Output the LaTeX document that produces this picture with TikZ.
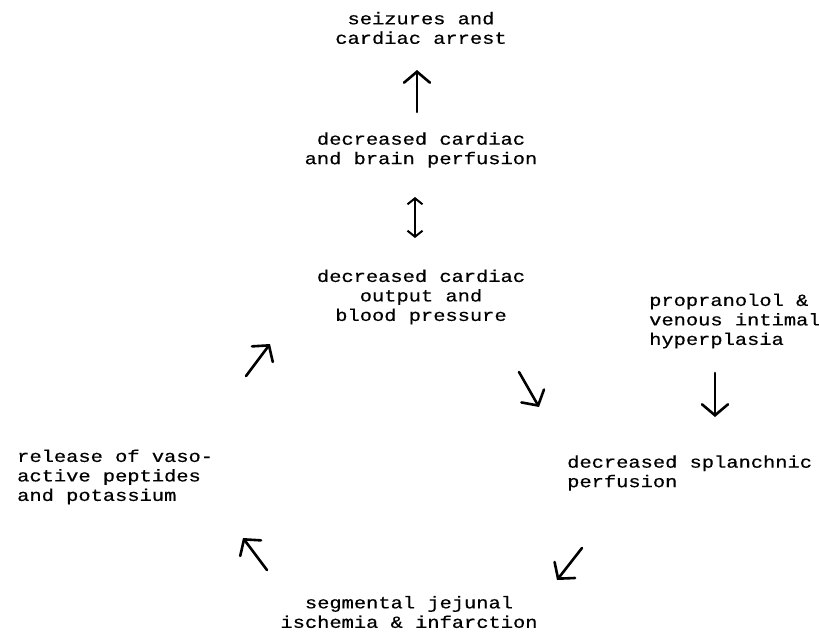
\documentclass[tikz,border=0pt]{standalone}
\usepackage{fontspec}
\setmainfont{Liberation Mono}[FakeStretch=1.2,FakeBold=0.5]
\usetikzlibrary{arrows.meta}
\begin{document}
\begin{tikzpicture}[x=1pt,y=-1pt,
  lbl/.style={inner sep=0pt, font=\fontsize{17}{19.5}\selectfont},
  ctr/.style={lbl, align=center},
  lft/.style={lbl, align=left, anchor=west},
  arr/.style={line width=2.6pt, line cap=round, -{Straight Barb[length=11pt,width=26pt,line cap=round]}},
  darr/.style={line width=2pt, {Straight Barb[length=6pt,width=15pt]}-{Straight Barb[length=6pt,width=15pt]}}]
\useasboundingbox (0,0) rectangle (819,633);
\node[ctr] (seiz) at (421,28) {seizures and\\cardiac arrest};
\node[ctr] (brain) at (421,150) {decreased cardiac\\and brain perfusion};
\node[ctr] (output) at (421,297) {decreased cardiac\\output and\\blood pressure};
\node[lft] (prop) at (649,321) {propranolol \&\\venous intimal\\hyperplasia};
\node[lft] (release) at (17,477) {release of vaso-\\active peptides\\and potassium};
\node[lft] (splanch) at (567,473) {decreased splanchnic\\perfusion};
\node[ctr] (seg) at (409,612) {segmental jejunal\\ischemia \& infarction};
% arrow end points
\coordinate (a1s) at (417,112); \coordinate (a1e) at (417,70);
\coordinate (a2s) at (415,197); \coordinate (a2e) at (415,238);
\coordinate (a3s) at (246,376); \coordinate (a3e) at (270,344);
\coordinate (a4s) at (519,372); \coordinate (a4e) at (539,407);
\coordinate (a5s) at (715,373); \coordinate (a5e) at (715,417);
\coordinate (a6s) at (582,548); \coordinate (a6e) at (557,580);
\coordinate (a7s) at (267,570); \coordinate (a7e) at (243,538);
\draw[arr] (a1s) -- (a1e);
\draw[darr] (a2s) -- (a2e);
\draw[arr] (a3s) -- (a3e);
\draw[arr] (a4s) -- (a4e);
\draw[arr] (a5s) -- (a5e);
\draw[arr] (a6s) -- (a6e);
\draw[arr] (a7s) -- (a7e);
\end{tikzpicture}
\end{document}
